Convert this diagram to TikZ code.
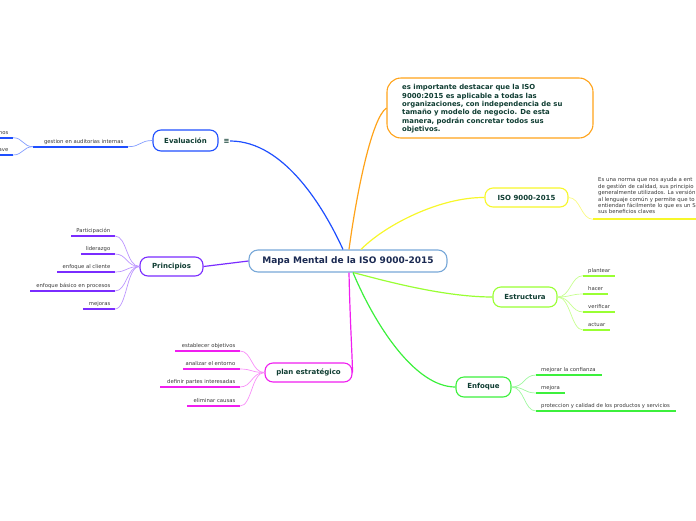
\documentclass[tikz,border=0pt]{standalone}
\usepackage{fontspec}
\setmainfont{DejaVu Sans}
\definecolor{centralc}{HTML}{78A8D8}
\definecolor{centraltext}{HTML}{1B2A52}
\definecolor{darktext}{HTML}{0F3D32}
\definecolor{leaftext}{HTML}{383838}
\definecolor{cblue}{HTML}{1F4FFF}
\definecolor{cpurple}{HTML}{7A2CFF}
\definecolor{cmag}{HTML}{F01EF0}
\definecolor{corange}{HTML}{FFA31A}
\definecolor{cyellow}{HTML}{F7F72A}
\definecolor{cyg}{HTML}{99FF33}
\definecolor{cgreen}{HTML}{3CF03C}
\newcommand\leafL[6]{% name, xl, xr, y, color, text
  \coordinate (#1a) at (#2,#4); \coordinate (#1b) at (#3,#4);
  \draw[uline,#5] (#1a) -- (#1b);
  \node[leaf,anchor=base east] (#1) at ([xshift=-4.5pt,yshift=3.5pt]#1b) {#6};}
\newcommand\leafR[6]{% name, xl, xr, y, color, text
  \coordinate (#1a) at (#2,#4); \coordinate (#1b) at (#3,#4);
  \draw[uline,#5] (#1a) -- (#1b);
  \node[leaf,anchor=base west] (#1) at ([xshift=5pt,yshift=3.5pt]#1a) {#6};}
\begin{document}
\begin{tikzpicture}[x=1pt,y=-1pt,
  hub/.style={draw=centralc, line width=1.1pt, rounded corners=9pt, fill=white, inner sep=0pt,
    minimum width=198pt, minimum height=22pt, text=centraltext, font=\fontsize{9}{10}\selectfont\bfseries},
  topic/.style={line width=1.1pt, rounded corners=8pt, fill=white, inner sep=0pt,
    minimum height=20pt, text=darktext, font=\fontsize{7}{8}\selectfont\bfseries},
  leaf/.style={inner sep=0pt, text=leaftext, font=\fontsize{5.3}{6}\selectfont},
  uline/.style={line width=1.8pt},
  twig/.style={line width=0.7pt},
  branch/.style={line width=1.2pt}
]
\useasboundingbox (0,0) rectangle (696,520);
\clip (0,0) rectangle (696,520);

\node[hub] (hub) at (348,261) {Mapa Mental de la ISO 9000-2015};
\node[topic, draw=cblue, minimum width=65pt, minimum height=21pt] (ev) at (185.5,140.5) {Evaluación};
\node[text=darktext, font=\fontsize{7}{8}\selectfont\bfseries, inner sep=0.5pt] (evicon) at (226.5,141) {≡};
\node[topic, draw=cpurple, minimum width=63pt, minimum height=19pt] (pr) at (171.5,266.5) {Principios};
\node[topic, draw=cmag, minimum width=87pt, minimum height=19pt] (pl) at (308.5,372.5) {plan estratégico};
\node[topic, draw=cyellow, minimum width=83pt, minimum height=19pt] (iso) at (526.5,197.5) {ISO 9000-2015};
\node[topic, draw=cyg, minimum width=64pt, minimum height=20pt] (es) at (525,297) {Estructura};
\node[topic, draw=cgreen, minimum width=55pt, minimum height=20pt] (en) at (483.5,387) {Enfoque};
\node[draw=corange, line width=1.1pt, rounded corners=14pt, fill=white, inner sep=0pt,
  minimum width=206pt, minimum height=60pt] (note) at (490,108) {};
\node[anchor=north west, align=left, inner sep=0pt, text=darktext,
  font=\fontsize{6.9}{8.3}\selectfont\bfseries] (notetext) at (402,84.5)
  {es importante destacar que la ISO\\9000:2015 es aplicable a todas las\\organizaciones, con independencia de su\\tamaño y modelo de negocio. De esta\\manera, podrán concretar todos sus\\objetivos.};

\draw[branch,cblue] ([xshift=-5pt]hub.north) .. controls (325,210) and (285,141) .. (evicon.east);
\draw[branch,corange] ([xshift=1pt]hub.north) .. controls (357,190) and (372,118) .. (note.west);
\draw[branch,cyellow] ([xshift=13pt]hub.north) .. controls (385,225) and (440,197) .. (iso.west);
\draw[branch,cpurple] (hub.west) -- (pr.east);
\draw[branch,cmag] ([xshift=1pt]hub.south) .. controls (350,320) and (352,350) .. (pl.east);
\draw[branch,cyg] ([xshift=5pt]hub.south) .. controls (375,278) and (440,297) .. (es.west);
\draw[branch,cgreen] ([xshift=5pt]hub.south) .. controls (375,325) and (415,387) .. (en.west);

% Evaluación leaves
\leafL{ga}{33}{128}{146.7}{cblue}{gestion en auditorias internas}
\leafL{gn}{-5}{13}{137.7}{cblue}{nos}
\leafL{gv}{-5}{13}{155}{cblue}{ave}
\draw[twig,cblue!55] (ev.west) .. controls +(-13,0) and +(13,0) .. (gab);
\draw[twig,cblue!55] (gaa) .. controls +(-10,0) and +(10,0) .. (gnb);
\draw[twig,cblue!55] (gaa) .. controls +(-10,0) and +(10,0) .. (gvb);

% Principios leaves
\leafL{p1}{71}{115}{236}{cpurple}{Participación}
\leafL{p2}{81}{115}{254}{cpurple}{liderazgo}
\leafL{p3}{57}{115}{272}{cpurple}{enfoque al cliente}
\leafL{p4}{30}{115}{291}{cpurple}{enfoque básico en procesos}
\leafL{p5}{83}{115}{309}{cpurple}{mejoras}
\foreach \k in {p1,p2,p3,p4,p5}
  \draw[twig,cpurple!50] (pr.west) .. controls +(-13,0) and +(12,0) .. (\k b);

% plan leaves
\leafL{q1}{175}{240}{351}{cmag}{establecer objetivos}
\leafL{q2}{183}{240}{369}{cmag}{analizar el entorno}
\leafL{q3}{160}{240}{387}{cmag}{definir partes interesadas}
\leafL{q4}{187}{240}{406}{cmag}{eliminar causas}
\foreach \k in {q1,q2,q3,q4}
  \draw[twig,cmag!50] (pl.west) .. controls +(-13,0) and +(12,0) .. (\k b);

% ISO leaf
\coordinate (isoa) at (593,219.3); \coordinate (isob) at (700,219.3);
\draw[uline,cyellow] (isoa) -- (isob);
\node[anchor=north west, align=left, inner sep=0pt, text=leaftext,
  font=\fontsize{5.4}{5}\selectfont] (isotext) at (598,177.5)
  {Es una norma que nos ayuda a ent\\de gestión de calidad, sus principio\\generalmente utilizados. La versión\\al lenguaje común y permite que to\\entiendan fácilmente lo que es un S\\sus beneficios claves};
\draw[twig,cyellow!60] (iso.east) .. controls +(12,0) and +(-12,0) .. (isoa);

% Estructura leaves
\leafR{e1}{583}{615}{275.7}{cyg}{plantear}
\leafR{e2}{583}{608}{294}{cyg}{hacer}
\leafR{e3}{583}{615}{312}{cyg}{verificar}
\leafR{e4}{583}{610}{330}{cyg}{actuar}
\foreach \k in {e1,e2,e3,e4}
  \draw[twig,cyg!55] (es.east) .. controls +(13,0) and +(-12,0) .. (\k a);

% Enfoque leaves
\leafR{f1}{536}{602}{375}{cgreen}{mejorar la confianza}
\leafR{f2}{536}{565}{393}{cgreen}{mejora}
\leafR{f3}{536}{676}{411}{cgreen}{proteccion y calidad de los productos y servicios}
\foreach \k in {f1,f2,f3}
  \draw[twig,cgreen!50] (en.east) .. controls +(13,0) and +(-12,0) .. (\k a);
\end{tikzpicture}
\end{document}
